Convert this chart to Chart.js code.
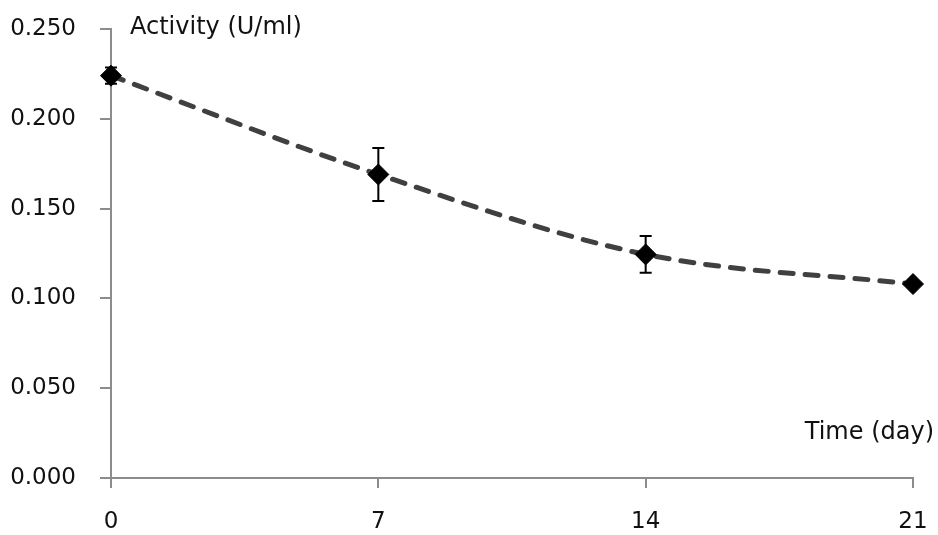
<!DOCTYPE html>
<html>
<head>
<meta charset="utf-8">
<title>Activity over time</title>
<script src="https://cdn.jsdelivr.net/npm/chart.js@4.4.1/dist/chart.umd.min.js"></script>
<style>
  html, body { margin: 0; padding: 0; background: #fff; }
  #wrap { width: 938px; height: 535px; position: relative; }
</style>
</head>
<body>
<div id="wrap"><canvas id="activityChart"></canvas></div>
<script>
// data
const days = [0, 7, 14, 21];
const activity = [0.224, 0.169, 0.1245, 0.108];
const activityErr = [0.0045, 0.0147, 0.0102, 0.0015];
const xTicks = [0, 7, 14, 21];
const yTicks = [0, 0.05, 0.1, 0.15, 0.2, 0.25];

const yTitle = 'Activity (U/ml)';
const xTitle = 'Time (day)';

const FONT = "'DejaVu Sans', sans-serif";
const AXIS_GREY = '#8c8c8c';

// error bars, drawn through the scales
const errorBars = {
  id: 'errorBars',
  afterDatasetsDraw(chart) {
    const { ctx, scales: { x, y } } = chart;
    ctx.save();
    ctx.strokeStyle = '#000';
    ctx.lineWidth = 2;
    days.forEach((d, i) => {
      const px = x.getPixelForValue(d);
      const top = y.getPixelForValue(activity[i] + activityErr[i]);
      const bot = y.getPixelForValue(activity[i] - activityErr[i]);
      ctx.beginPath();
      ctx.moveTo(px, top); ctx.lineTo(px, bot);
      ctx.moveTo(px - 6, top); ctx.lineTo(px + 6, top);
      ctx.moveTo(px - 6, bot); ctx.lineTo(px + 6, bot);
      ctx.stroke();
    });
    ctx.restore();
  }
};

// axis titles sit inside the plot, Excel style
const axisTitles = {
  id: 'axisTitles',
  afterDraw(chart) {
    const { ctx, chartArea } = chart;
    ctx.save();
    ctx.fillStyle = '#111';
    ctx.font = `24px ${FONT}`;
    ctx.textBaseline = 'middle';
    ctx.textAlign = 'left';
    ctx.fillText(yTitle, chartArea.left + 19, 28);
    ctx.textAlign = 'right';
    ctx.fillText(xTitle, chart.width - 4, 433);
    ctx.restore();
  }
};

new Chart(document.getElementById('activityChart'), {
  type: 'line',
  data: {
    datasets: [{
      data: days.map((d, i) => ({ x: d, y: activity[i] })),
      borderColor: '#404040',
      borderWidth: 5,
      borderDash: [13, 12],
      borderCapStyle: 'round',
      cubicInterpolationMode: 'monotone',
      pointStyle: 'rectRot',
      pointRadius: 10.5,
      pointBackgroundColor: '#000',
      pointBorderColor: '#000',
      pointBorderWidth: 1,
      clip: false,
      fill: false
    }]
  },
  options: {
    responsive: true,
    maintainAspectRatio: false,
    animation: false,
    layout: { padding: { top: 29, right: 25, left: 0, bottom: 0 } },
    plugins: {
      legend: { display: false },
      tooltip: { enabled: false }
    },
    scales: {
      x: {
        type: 'linear',
        min: 0,
        max: 21,
        afterBuildTicks: s => { s.ticks = xTicks.map(v => ({ value: v })); },
        afterFit: s => { s.height = 57; s.paddingLeft = 0; s.paddingRight = 0; },
        grid: { drawOnChartArea: false, drawTicks: true, tickLength: 10, color: AXIS_GREY, lineWidth: 2 },
        border: { display: true, color: AXIS_GREY, width: 2 },
        ticks: { color: '#111', padding: 20, font: { family: FONT, size: 23 } }
      },
      y: {
        min: 0,
        max: 0.25,
        afterBuildTicks: s => { s.ticks = yTicks.map(v => ({ value: v })); },
        afterFit: s => { s.width = 111; s.paddingTop = 0; s.paddingBottom = 0; },
        grid: { drawOnChartArea: false, drawTicks: true, tickLength: 11, color: AXIS_GREY, lineWidth: 2 },
        border: { display: true, color: AXIS_GREY, width: 2 },
        ticks: {
          color: '#111',
          padding: 24,
          font: { family: FONT, size: 23 },
          callback: v => v.toFixed(3)
        }
      }
    }
  },
  plugins: [errorBars, axisTitles]
});
</script>
</body>
</html>
